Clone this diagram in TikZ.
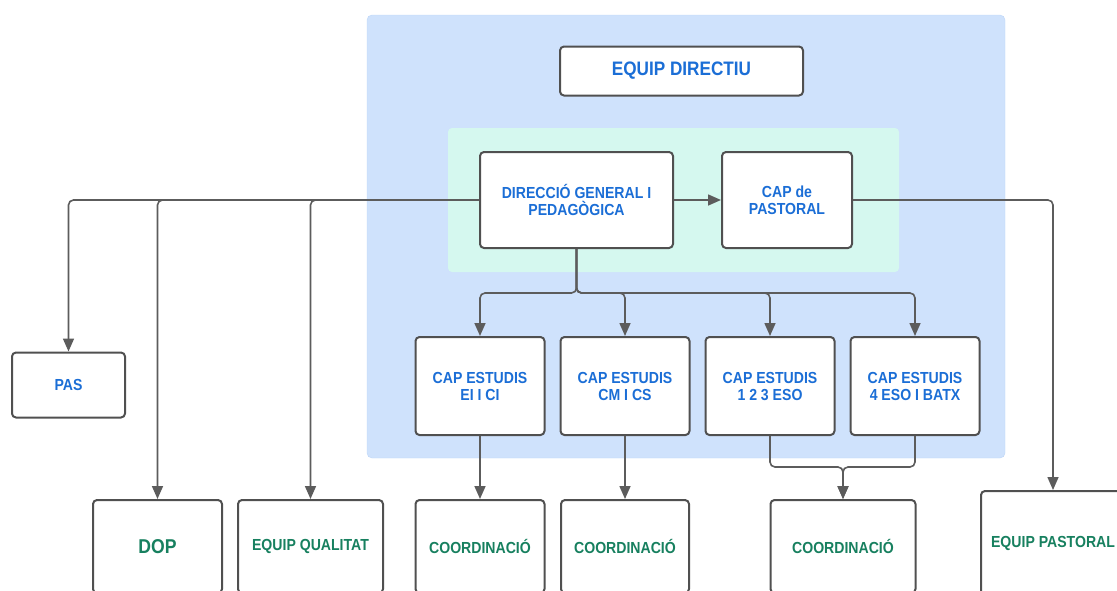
\documentclass[tikz,border=0pt]{standalone}
\usepackage{fontspec}
\setmainfont{Liberation Sans}[FakeStretch=0.88]
\usetikzlibrary{positioning,arrows.meta}
\definecolor{areablue}{HTML}{CFE2FC}
\definecolor{areaedge}{HTML}{BDD5F7}
\definecolor{areagreen}{HTML}{D5F8EF}
\definecolor{textblue}{HTML}{1B6ED6}
\definecolor{textgreen}{HTML}{17805F}
\definecolor{boxgray}{HTML}{505050}
\definecolor{linegray}{HTML}{5C5C5C}

\begin{document}
\begin{tikzpicture}[x=1pt, y=-1pt,
  box/.style={draw=boxgray, line width=2pt, fill=white, rounded corners=4pt, align=center,
    inner sep=0pt, font=\bfseries\fontsize{16}{17}\selectfont},
  topbox/.style={box, text=textblue},
  lowbox/.style={box, text=textgreen, anchor=north},
  link/.style={draw=linegray, line width=1.6pt, rounded corners=5pt},
  arr/.style={link, -{Triangle[length=13pt,width=11pt]}}]
  \useasboundingbox (0,0) rectangle (1117,590);
  \clip (0,0) rectangle (1117,590);

  % zones de fons
  \draw[fill=areablue, draw=areaedge, rounded corners=5pt] (367,15) rectangle (1005,458);
  \fill[areagreen, rounded corners=4pt] (448,128) rectangle (899,272);

  % direccio
  \node[topbox, minimum width=243pt, minimum height=49pt, font=\bfseries\fontsize{19.5}{21}\selectfont] (ed) at (681.5,71) {EQUIP DIRECTIU};
  \node[topbox, minimum width=193pt, minimum height=96pt] (dgp) at (576.5,200) {DIRECCIÓ GENERAL I\\PEDAGÒGICA};
  \node[topbox, minimum width=130pt, minimum height=96pt] (cpas) at (787,200) {CAP de\\PASTORAL};
  \node[topbox, minimum width=113pt, minimum height=65pt] (pas) at (68.5,385) {PAS};

  \foreach \x/\n/\t in {480/1/EI I CI, 625/2/CM I CS, 770/3/1 2 3 ESO, 915/4/4 ESO I BATX}
    \node[topbox, minimum width=129pt, minimum height=98pt] (ce\n) at (\x,386) {CAP ESTUDIS\\\t};

  % fila de baix
  \node[lowbox, minimum width=129pt, minimum height=93pt, font=\bfseries\fontsize{20}{22}\selectfont] (dop) at (157.5,499) {DOP};
  \node[lowbox, minimum width=145pt, minimum height=93pt] (eq) at (310.5,499) {EQUIP QUALITAT};
  \node[lowbox, minimum width=129pt, minimum height=93pt] (co1) at (480,499) {COORDINACIÓ};
  \node[lowbox, minimum width=128pt, minimum height=93pt] (co2) at (625,499) {COORDINACIÓ};
  \node[lowbox, minimum width=145pt, minimum height=93pt] (co3) at (843,499) {COORDINACIÓ};
  \node[lowbox, minimum width=144pt, minimum height=104pt] (epas) at (1053,490) {EQUIP PASTORAL};

  % connexions
  \draw[arr] (dgp.west) -| (pas.north);
  \draw[arr] (dgp.west) -| (dop.north);
  \draw[arr] (dgp.west) -| (eq.north);
  \draw[arr] (dgp) -- (cpas);
  \draw[arr] (cpas.east) -| (epas.north);
  \coordinate (bus) at (576.5,293);
  \foreach \n in {1,...,4}
    \draw[arr] (dgp.south) -- (bus) -| (ce\n.north);
  \draw[arr] (ce1) -- (co1);
  \draw[arr] (ce2) -- (co2);
  \coordinate (join) at (843,467);
  \draw[arr] (ce3.south) |- (join) -- (co3.north);
  \draw[arr] (ce4.south) |- (join) -- (co3.north);
\end{tikzpicture}
\end{document}
